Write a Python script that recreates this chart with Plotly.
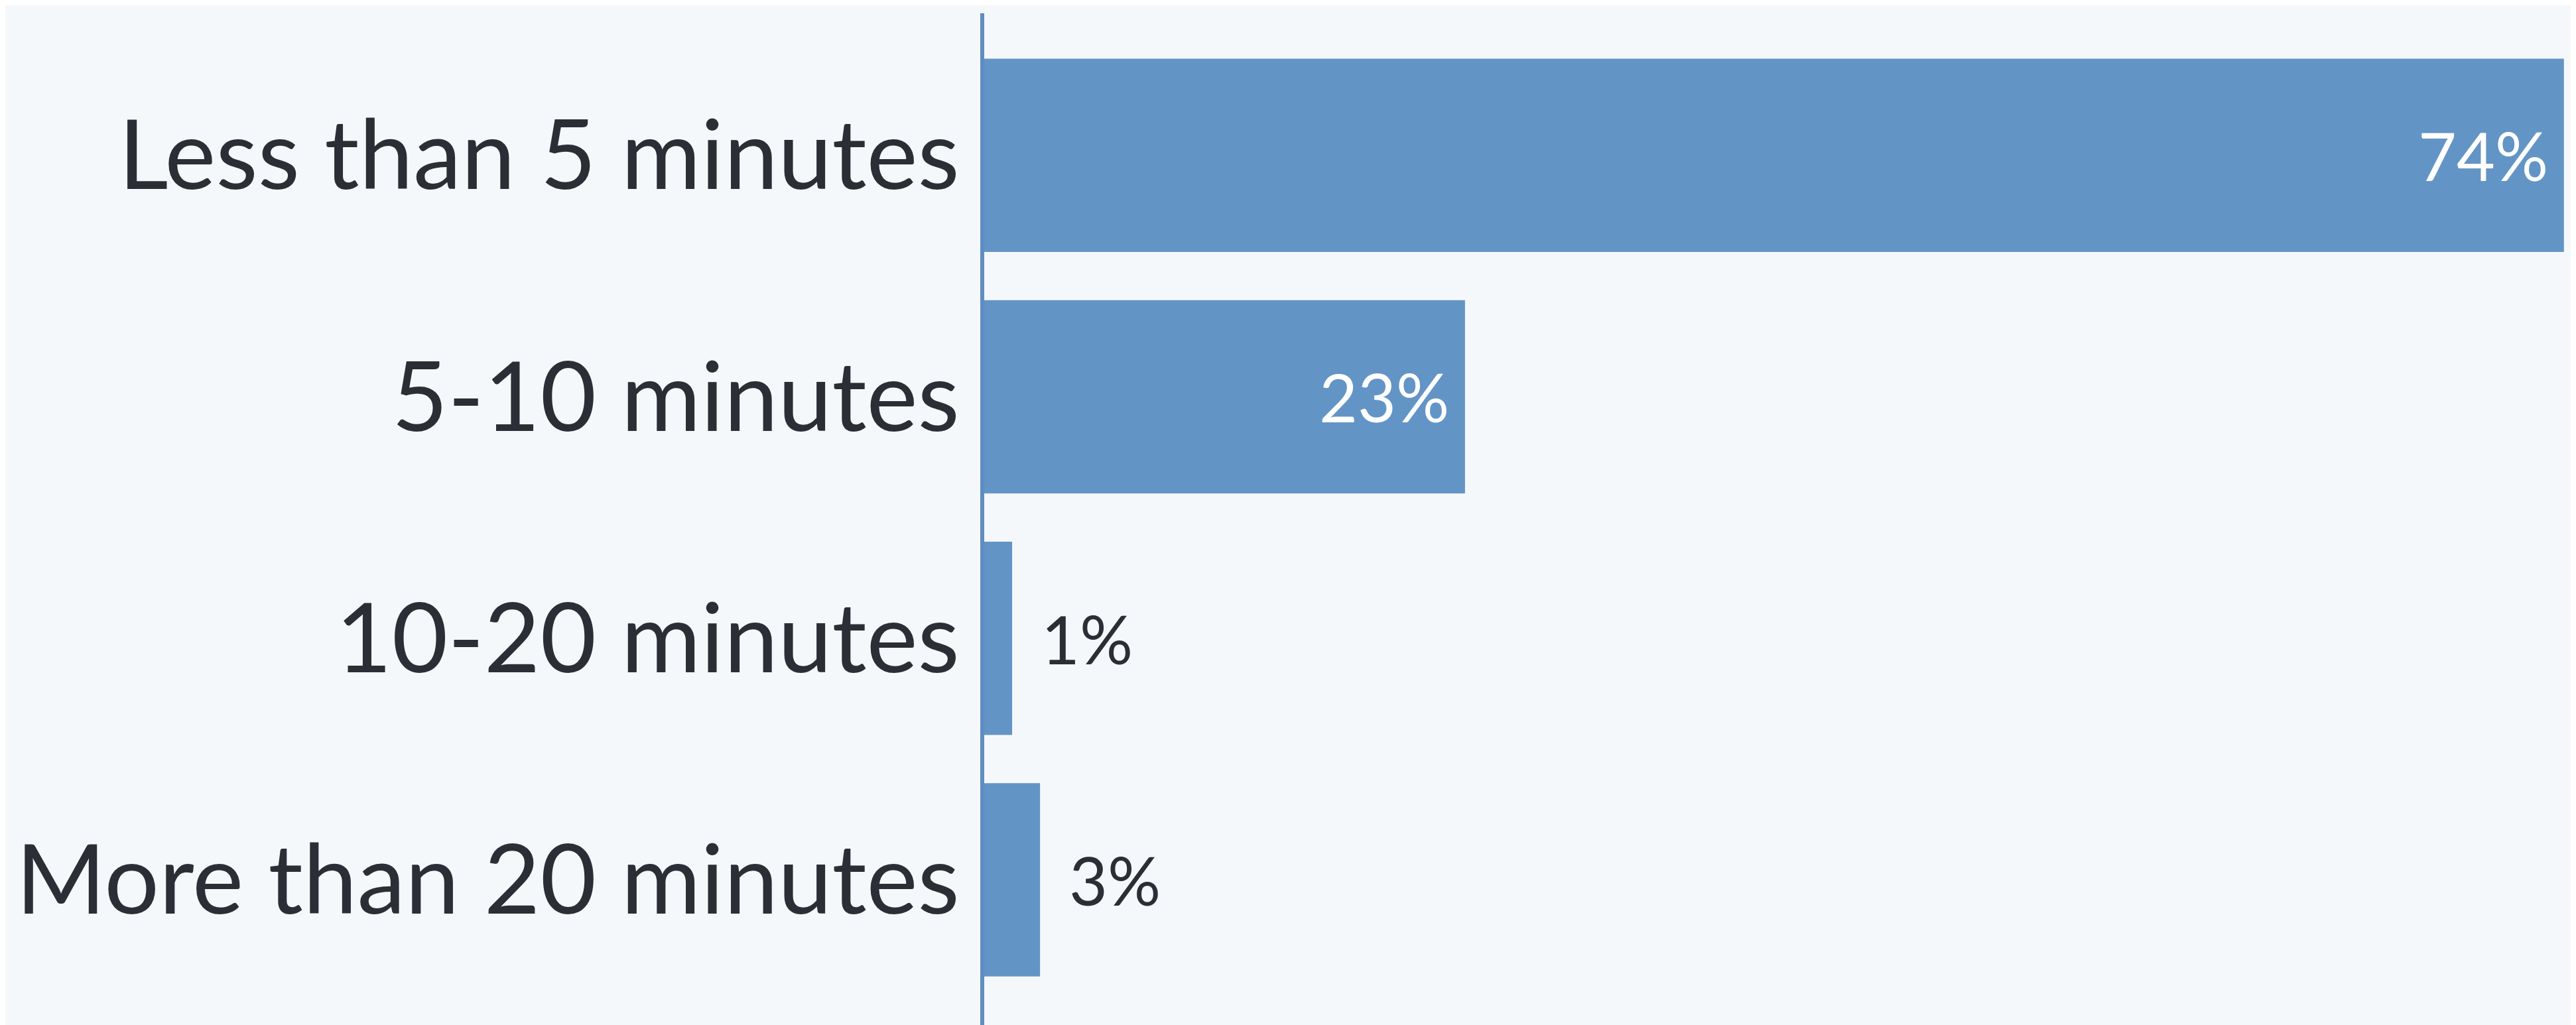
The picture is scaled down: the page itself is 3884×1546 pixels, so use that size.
import plotly.graph_objects as go

categories = ["Less than 5 minutes", "5-10 minutes", "10-20 minutes", "More than 20 minutes"]
values = [73.6, 22.4, 1.3, 2.6]
value_labels = ["74%", "23%", "1%", "3%"]
label_inside = [True, True, False, False]

BAR = "#6394c6"
BG = "#f5f8fb"
TXT = "#2b2f35"
FONT = "Lato"

fig = go.Figure()
fig.add_trace(go.Bar(
    x=values, y=categories, orientation="h",
    marker=dict(color=BAR, line=dict(width=0)),
    hoverinfo="skip",
))

for c, v, lab, ins in zip(categories, values, value_labels, label_inside):
    fig.add_annotation(
        x=v, y=c, xref="x", yref="y", text=lab, showarrow=False,
        xanchor="right" if ins else "left",
        xshift=-22 if ins else 42,
        font=dict(family=FONT, size=100, color="white" if ins else TXT),
    )

fig.update_layout(
    width=3884, height=1546,
    margin=dict(l=1476, r=0, t=12, b=0),
    paper_bgcolor=BG, plot_bgcolor=BG,
    bargap=0.2,
    showlegend=False,
    xaxis=dict(range=[0, 74.41], showticklabels=False, showgrid=False,
               zeroline=False, showline=False, ticks="", automargin=False),
    yaxis=dict(type="category", categoryorder="array", categoryarray=categories,
               range=[3.623, -0.588], showgrid=False, zeroline=False,
               showline=True, linecolor="#5f8cc2", linewidth=6, ticks="",
               automargin=False, ticklabelstandoff=2,
               tickfont=dict(family=FONT, size=146, color=TXT)),
)

fig.write_html("out.html")
